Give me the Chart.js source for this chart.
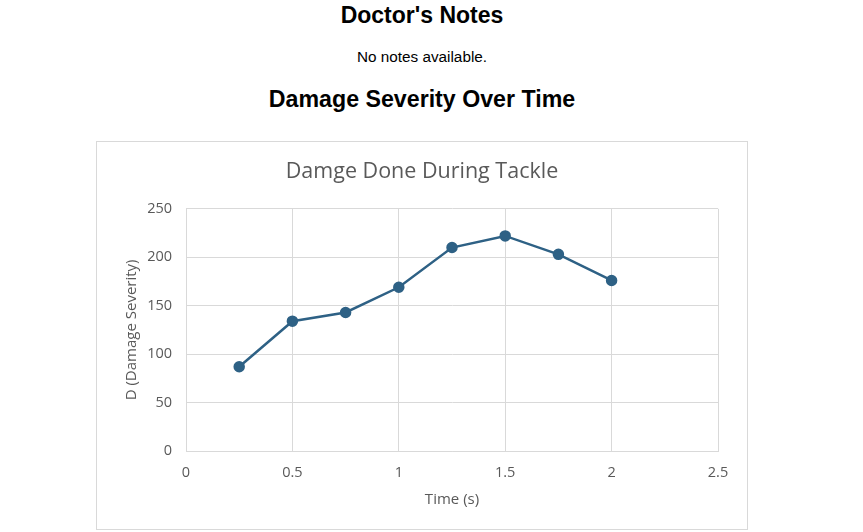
<!DOCTYPE html>
<html>
<head>
<meta charset="utf-8">
<script src="https://cdn.jsdelivr.net/npm/chart.js@4.4.1/dist/chart.umd.min.js"></script>
<style>
    body { margin: 0; background: #fff; font-family: "Liberation Sans", Arial, sans-serif; }
    .page { position: relative; width: 844px; height: 532px; }
    .line { position: absolute; left: 0; width: 844px; text-align: center; color: #000; }
    .h-notes { top: 4px; font-size: 23px; line-height: 23px; font-weight: bold; }
    .notes { top: 49px; font-size: 15.3px; line-height: 15.3px; }
    .h-chart { top: 87.5px; font-size: 23.2px; line-height: 23.2px; font-weight: bold; }
    .chart-box { position: absolute; left: 96px; top: 141px; width: 650px; height: 387px; border: 1px solid #d9d9d9; }
    canvas { display: block; }
</style>
</head>
<body>
<div class="page">
    <div class="line h-notes">Doctor's Notes</div>
    <div class="line notes">No notes available.</div>
    <div class="line h-chart">Damage Severity Over Time</div>
    <div class="chart-box"><canvas id="damageChart" width="650" height="387"></canvas></div>
</div>
<script>
// time in seconds, damage severity
const timeValues = [0.25, 0.5, 0.75, 1, 1.25, 1.5, 1.75, 2];
const damageValues = [87, 134, 143, 169, 210, 222, 203, 176];
const xTicks = [0, 0.5, 1, 1.5, 2, 2.5];
const yTicks = [0, 50, 100, 150, 200, 250];

const textGray = '#595959';
const gridGray = '#d9d9d9';
const lineBlue = '#2e6185';
const tickFont = { family: "'Open Sans', sans-serif", size: 14.5 };
const axisTitleFont = { family: "'Open Sans', sans-serif", size: 15, lineHeight: 1.2 };

const points = timeValues.map((t, i) => ({ x: t, y: damageValues[i] }));

const ctx = document.getElementById('damageChart').getContext('2d');
new Chart(ctx, {
    type: 'scatter',
    data: {
        datasets: [{
            label: 'Damage',
            data: points,
            showLine: true,
            borderColor: lineBlue,
            backgroundColor: lineBlue,
            borderWidth: 2.5,
            pointRadius: 4.5,
            pointHoverRadius: 4.5,
            tension: 0
        }]
    },
    options: {
        responsive: false,
        animation: false,
        layout: { padding: 0 },
        plugins: {
            legend: { display: false },
            tooltip: { enabled: false },
            title: {
                display: true,
                text: 'Damge Done During Tackle',
                color: textGray,
                font: { family: "'Open Sans', sans-serif", size: 21.5, weight: 'normal', lineHeight: 1.2 },
                padding: { top: 17, bottom: 24 }
            }
        },
        scales: {
            x: {
                type: 'linear',
                min: xTicks[0],
                max: xTicks[xTicks.length - 1],
                afterBuildTicks: (scale) => { scale.ticks = xTicks.map(v => ({ value: v })); },
                afterFit: (scale) => { scale.height = 78; },
                ticks: {
                    color: textGray, font: tickFont, padding: 13, maxRotation: 0,
                    callback: (v) => String(v)
                },
                grid: { color: gridGray, lineWidth: 1, drawTicks: false },
                border: { color: gridGray },
                title: {
                    display: true,
                    text: 'Time (s)',
                    color: textGray,
                    font: axisTitleFont,
                    padding: { top: 0, bottom: 20 }
                }
            },
            y: {
                min: yTicks[0],
                max: yTicks[yTicks.length - 1],
                afterBuildTicks: (scale) => { scale.ticks = yTicks.map(v => ({ value: v })); },
                afterFit: (scale) => { scale.width = 89; },
                ticks: { color: textGray, font: tickFont, padding: 14 },
                grid: { color: gridGray, lineWidth: 1, drawTicks: false },
                border: { color: gridGray },
                title: {
                    display: true,
                    text: 'D (Damage Severity)',
                    color: textGray,
                    font: axisTitleFont,
                    padding: { top: 26, bottom: 0 }
                }
            },
            // empty right-hand axis, only keeps a margin so the title stays centred on the box
            spacer: {
                position: 'right',
                min: yTicks[0],
                max: yTicks[yTicks.length - 1],
                afterFit: (scale) => { scale.width = 29; },
                ticks: { display: false },
                grid: { display: false, drawTicks: false },
                border: { display: false }
            }
        }
    }
});
</script>
</body>
</html>
